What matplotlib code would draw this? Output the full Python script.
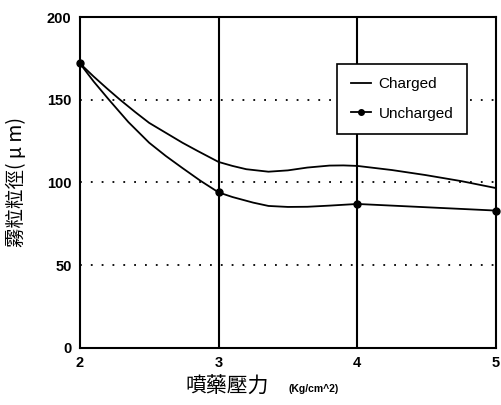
import matplotlib
matplotlib.use('Agg')
import matplotlib.pyplot as plt

# values
x_charged = [2.0, 2.1, 2.2, 2.29, 2.4, 2.5, 2.6, 2.74, 2.85, 3.0, 3.1, 3.2, 3.36, 3.5, 3.64, 3.8, 3.9, 4.0,
             4.25, 4.49, 4.75, 5.0]
y_charged = [172, 164, 156.5, 150, 142.5, 136, 131, 124, 119, 112.4, 110, 108, 106.5, 107.3, 109, 110.2, 110.3, 110,
             107.5, 104.5, 100.8, 96.6]

x_unch_line = [2.0, 2.1, 2.21, 2.35, 2.5, 2.62, 2.74, 2.87, 3.0, 3.1, 3.25, 3.36, 3.5, 3.64, 3.8, 4.0, 4.5, 5.0]
y_unch_line = [172, 161, 150, 136.5, 124, 116, 108.7, 101, 94, 91.2, 87.8, 85.8, 85.2, 85.3, 86, 87, 85, 83]

x_unch_pts = [2, 3, 4, 5]
y_unch_pts = [172, 94, 87, 83]

xticks = [2, 3, 4, 5]
yticks = [0, 50, 100, 150, 200]

plt.rcParams['font.family'] = ['Liberation Sans', 'DejaVu Sans']

fig = plt.figure(figsize=(5.02, 4.05), dpi=100)
ax = fig.add_axes([0.159, 0.141, 0.829, 0.817])

for y in [50, 100, 150]:
    ax.axhline(y, color='black', lw=1.3, ls=(0, (1, 5)), zorder=1)
for x in [3, 4]:
    ax.axvline(x, color='black', lw=1.5, zorder=1)

ax.plot(x_charged, y_charged, color='black', lw=1.3, zorder=3, label='Charged')
ax.plot(x_unch_line, y_unch_line, color='black', lw=1.3, zorder=3)
ax.plot(x_unch_pts, y_unch_pts, 'o', color='black', ms=5, zorder=4, clip_on=False)
# legend proxy for uncharged
ax.plot([], [], '-o', color='black', lw=1.3, ms=4, label='Uncharged')

ax.set_xlim(2, 5)
ax.set_ylim(0, 200)
ax.set_xticks(xticks)
ax.set_yticks(yticks)
ax.tick_params(length=0, labelsize=10.5, pad=6)
for lab in ax.get_xticklabels() + ax.get_yticklabels():
    lab.set_fontweight('bold')
for s in ax.spines.values():
    s.set_linewidth(1.5)

leg = ax.legend(loc='upper left', bbox_to_anchor=(0.6, 0.882), fontsize=11,
                frameon=True, fancybox=False, edgecolor='black', framealpha=1,
                handlelength=1.3, labelspacing=1.0, borderpad=0.9, handletextpad=0.5)
leg.get_frame().set_linewidth(1.2)
leg.set_zorder(5)

cjk = ['Noto Sans CJK TC', 'DejaVu Sans']
ax.set_ylabel('霧粒粒徑( μ m)', family=cjk, fontsize=14, labelpad=14)
fig.text(0.37, 0.045, '噴藥壓力', family=cjk, fontsize=15, va='center')
fig.text(0.575, 0.04, '(Kg/cm^2)', fontsize=7.5, fontweight='bold', va='center')

fig.savefig('out.png', dpi=100)
